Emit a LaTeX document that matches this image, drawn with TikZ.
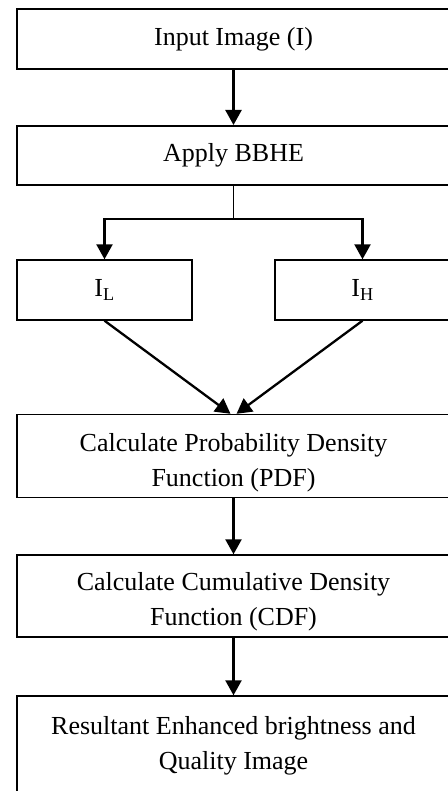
\documentclass[tikz,border=0pt]{standalone}
\usepackage{fontspec}
\setmainfont{Liberation Serif}
\usepackage{tikz}
\usetikzlibrary{arrows.meta}

\begin{document}
\begin{tikzpicture}[x=1pt,y=-1pt,
    box/.style={draw, line width=1.4pt, align=center, inner sep=0pt,
        font=\fontsize{26}{35}\selectfont},
    boldbox/.style={box, line width=2pt},
    arr/.style={line width=2.3pt, -{Triangle[length=15pt,width=16pt]}}]

        \useasboundingbox (0,0) rectangle (447,791);

        % Boxes
        \node[boldbox, minimum width=433pt, minimum height=60pt] (input) at (233.5,39) {Input Image (I)};
        \node[boldbox, minimum width=433pt, minimum height=59pt] (bbhe) at (233.5,155.5) {Apply BBHE};
        \node[box, minimum width=175pt, minimum height=60pt] (low) at (104.5,290) {I\textsubscript{L}};
        \node[box, minimum width=175pt, minimum height=60pt] (high) at (362.5,290) {I\textsubscript{H}};
        \node[box, minimum width=433pt, minimum height=83pt] (pdf) at (233.5,456) {\rule{0pt}{32pt}Calculate Probability Density\\Function (PDF)};
        \node[box, minimum width=433pt, minimum height=82pt] (cdf) at (233.5,596) {\rule{0pt}{30pt}Calculate Cumulative Density\\Function (CDF)};
        \node[box, minimum width=433pt, minimum height=100pt] (result) at (233.5,746) {Resultant Enhanced brightness and\\Quality Image};

        % Split point
        \coordinate (split) at (233.5,219);

        % Arrows
        \draw[arr] (input) -- (bbhe);
        \draw[line width=1.2pt] (bbhe) -- (split);
        \draw[line width=1.8pt, arr] (split) -| (low);
        \draw[line width=1.8pt, arr] (split) -| (high);
        \draw[arr] (low.south) -- ([xshift=-3pt]pdf.north);
        \draw[arr] (high.south) -- ([xshift=3pt]pdf.north);
        \draw[arr] (pdf) -- (cdf);
        \draw[arr] (cdf) -- (result);

\end{tikzpicture}
\end{document}
